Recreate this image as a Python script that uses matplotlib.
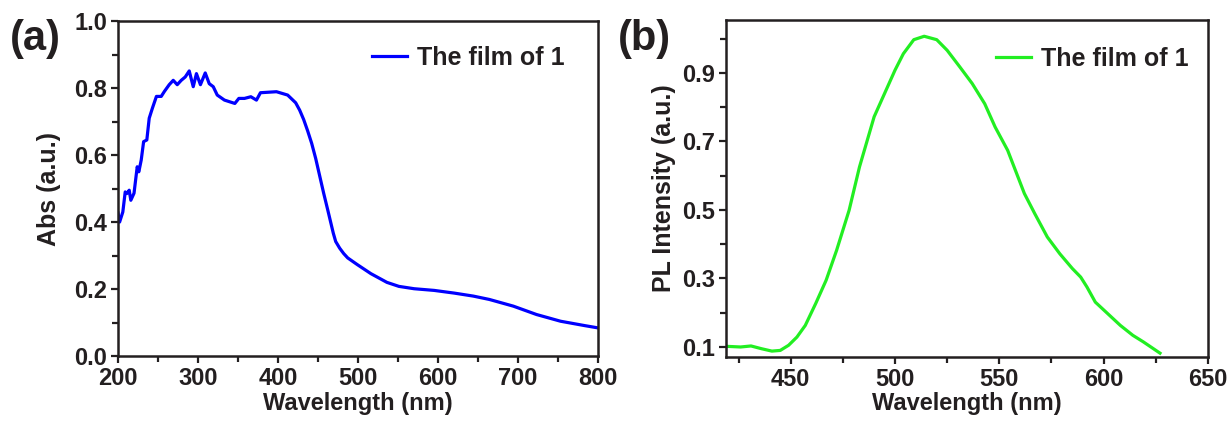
#absorption and PL spectra of the film
import matplotlib
matplotlib.use("Agg")
import matplotlib.pyplot as plt
from matplotlib.ticker import MultipleLocator

plt.rcParams['font.family'] = ['Liberation Sans', 'DejaVu Sans']
plt.rcParams['font.weight'] = 'bold'
plt.rcParams['text.color'] = '#231f20'
plt.rcParams['axes.labelcolor'] = '#231f20'
plt.rcParams['xtick.color'] = '#231f20'
plt.rcParams['ytick.color'] = '#231f20'
plt.rcParams['axes.edgecolor'] = '#231f20'

# absorption spectrum (a)
abs_wl = [200, 202, 206, 209, 211, 214, 216, 220, 224, 226, 229, 232, 236, 239, 243,
          248, 254, 258, 264, 269, 274, 279, 284, 289, 294, 298, 303, 309, 314, 319,
          324, 333, 346, 351, 358, 366, 373, 378, 398, 412, 422, 427, 432, 437, 442,
          447, 452, 457, 462, 466, 469, 472, 477, 482, 487, 499, 516, 536, 551, 570,
          595, 620, 644, 664, 694, 723, 753, 783, 800]
abs_val = [0.427, 0.40, 0.43, 0.49, 0.485, 0.495, 0.465, 0.486, 0.565, 0.55, 0.585, 0.64,
           0.645, 0.71, 0.74, 0.775, 0.775, 0.79, 0.81, 0.823, 0.81, 0.823, 0.833, 0.851,
           0.804, 0.843, 0.81, 0.845, 0.813, 0.804, 0.779, 0.764, 0.754, 0.769, 0.769,
           0.774, 0.764, 0.786, 0.789, 0.779, 0.756, 0.734, 0.706, 0.672, 0.635, 0.59,
           0.538, 0.486, 0.437, 0.397, 0.367, 0.342, 0.322, 0.306, 0.293, 0.273, 0.246,
           0.22, 0.208, 0.201, 0.196, 0.188, 0.179, 0.169, 0.149, 0.124, 0.104, 0.091,
           0.084]

# PL spectrum (b)
pl_wl = [419, 426, 431, 436, 441, 445, 449, 453, 457, 462, 467, 472, 478, 483, 490,
         495, 500, 504, 509, 514, 520, 525, 531, 537, 543, 548, 554, 562, 567, 573,
         579, 585, 589, 592, 596, 602, 608, 614, 619, 627]
pl_val = [0.102, 0.10, 0.103, 0.095, 0.088, 0.09, 0.105, 0.129, 0.163, 0.227, 0.295,
          0.382, 0.499, 0.626, 0.772, 0.84, 0.908, 0.956, 0.997, 1.007, 0.997, 0.966,
          0.918, 0.869, 0.81, 0.742, 0.674, 0.548, 0.489, 0.421, 0.372, 0.329, 0.304,
          0.275, 0.231, 0.197, 0.163, 0.134, 0.115, 0.082]

legend_label = "The film of 1"

def style_axes(ax):
	for s in ax.spines.values():
		s.set_linewidth(1.8)
	ax.tick_params(which='both', direction='out', width=1.6, labelsize=17, top=False, right=False, pad=3)
	ax.tick_params(which='major', length=5)
	ax.tick_params(which='minor', length=4)
	for lab in ax.get_xticklabels() + ax.get_yticklabels():
		lab.set_fontweight('bold')

fig = plt.figure(figsize=(12.28, 4.29), dpi=100)
ax1 = fig.add_axes([0.0961, 0.170, 0.391, 0.781])
ax2 = fig.add_axes([0.5912, 0.168, 0.3925, 0.785])

ax1.plot(abs_wl, abs_val, color='#0000ff', lw=2.3, label=legend_label)
ax1.set_xlim(200, 800)
ax1.set_ylim(0, 1.0)
ax1.xaxis.set_major_locator(MultipleLocator(100))
ax1.xaxis.set_minor_locator(MultipleLocator(50))
ax1.yaxis.set_major_locator(MultipleLocator(0.2))
ax1.yaxis.set_minor_locator(MultipleLocator(0.1))
ax1.yaxis.set_major_formatter(plt.FormatStrFormatter('%.1f'))
ax1.set_xlabel("Wavelength (nm)", fontsize=17, fontweight='bold', labelpad=1)
ax1.set_ylabel("Abs (a.u.)", fontsize=18, fontweight='bold', labelpad=9)
style_axes(ax1)
ax1.legend(loc='center right', bbox_to_anchor=(0.977, 0.89), frameon=False, fontsize=18,
	handlelength=1.4, handletextpad=0.4)

ax2.plot(pl_wl, pl_val, color='#22ee22', lw=2.3, label=legend_label)
ax2.set_xlim(419, 650)
ax2.set_ylim(0.071, 1.054)
ax2.xaxis.set_major_locator(MultipleLocator(50))
ax2.xaxis.set_minor_locator(MultipleLocator(25))
ax2.set_yticks([0.1, 0.3, 0.5, 0.7, 0.9])
ax2.set_yticks([0.2, 0.4, 0.6, 0.8, 1.0], minor=True)
ax2.yaxis.set_major_formatter(plt.FormatStrFormatter('%.1f'))
ax2.set_xlabel("Wavelength (nm)", fontsize=17, fontweight='bold', labelpad=1)
ax2.set_ylabel("PL Intensity (a.u.)", fontsize=18, fontweight='bold', labelpad=4)
style_axes(ax2)
ax2.legend(loc='center right', bbox_to_anchor=(1.006, 0.885), frameon=False, fontsize=18,
	handlelength=1.4, handletextpad=0.4)

fig.text(0.008, 0.955, "(a)", fontsize=30, fontweight='bold', va='top')
fig.text(0.503, 0.955, "(b)", fontsize=30, fontweight='bold', va='top')

fig.savefig("out.png", dpi=100)
